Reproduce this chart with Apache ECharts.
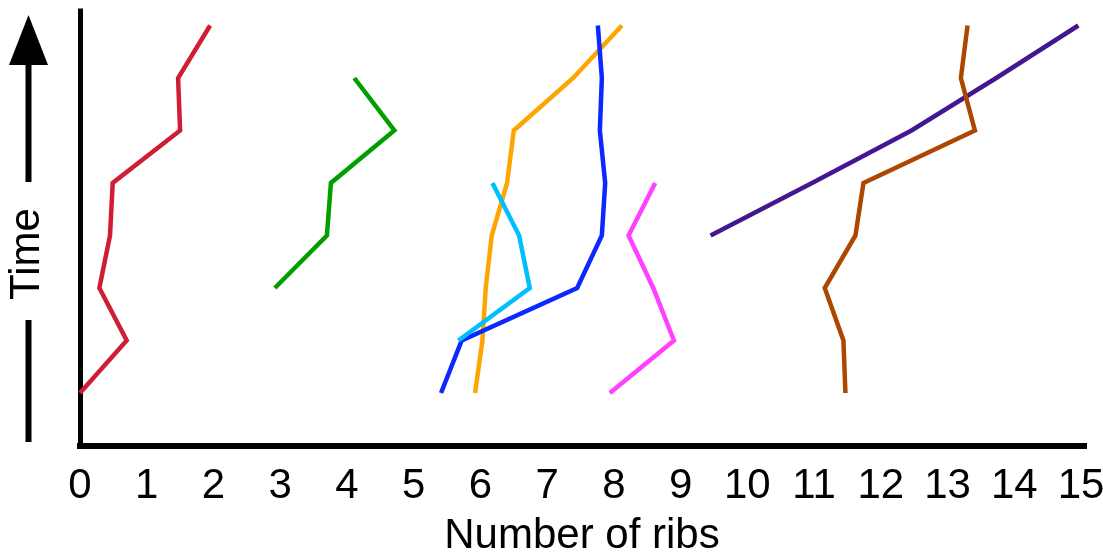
<!DOCTYPE html>
<html>
<head>
<meta charset="utf-8">
<script src="https://cdn.jsdelivr.net/npm/echarts@6/dist/echarts.min.js"></script>
<style>
  html, body { margin: 0; padding: 0; background: #fff; }
  #chart { width: 1103px; height: 554px; }
</style>
</head>
<body>
<div id="chart"></div>
<script>
// tick labels on the rib axis
const ribTicks = ['0', '1', '2', '3', '4', '5', '6', '7', '8', '9', '10', '11', '12', '13', '14', '15'];

// number of ribs at each time step, one array per lineage
const redRibs = [0, 0.70, 0.29, 0.45, 0.49, 1.50, 1.47, 1.95];
const redTime = [0, 1, 2, 3, 4, 5, 6, 7];

const greenRibs = [2.92, 3.70, 3.76, 4.71, 4.11];
const greenTime = [2, 3, 4, 5, 6];

const orangeRibs = [5.92, 6.03, 6.08, 6.17, 6.40, 6.50, 7.39, 8.12];
const orangeTime = [0, 1, 2, 3, 4, 5, 6, 7];

const blueRibs = [5.41, 5.72, 7.45, 7.82, 7.87, 7.79, 7.82, 7.76];
const blueTime = [0, 1, 2, 3, 4, 5, 6, 7];

const skyRibs = [5.67, 6.74, 6.58, 6.18];
const skyTime = [1, 2, 3, 4];

const pinkRibs = [7.94, 8.90, 8.59, 8.22, 8.62];
const pinkTime = [0, 1, 2, 3, 4];

const purpleRibs = [9.45, 10.97, 12.46, 13.73, 14.96];
const purpleTime = [3, 4, 5, 6, 7];

const brownRibs = [11.47, 11.44, 11.16, 11.62, 11.74, 13.41, 13.20, 13.30];
const brownTime = [0, 1, 2, 3, 4, 5, 6, 7];

const lineages = [
  { ribs: redRibs, time: redTime, color: '#cf1e34' },
  { ribs: greenRibs, time: greenTime, color: '#009f00' },
  { ribs: orangeRibs, time: orangeTime, color: '#ffa500' },
  { ribs: blueRibs, time: blueTime, color: '#0a28ff' },
  { ribs: skyRibs, time: skyTime, color: '#00bfff' },
  { ribs: pinkRibs, time: pinkTime, color: '#ff40ff' },
  { ribs: purpleRibs, time: purpleTime, color: '#42178f' },
  { ribs: brownRibs, time: brownTime, color: '#ad4600' }
];

const font = "'Liberation Sans', Arial, sans-serif";

let mychart = echarts.init(document.getElementById('chart'));
mychart.setOption({
  animation: false,
  backgroundColor: '#fff',
  grid: {
    left: 80,
    right: 19,
    top: 11,
    bottom: 108.5,
    containLabel: false,
    outerBoundsMode: 'none'
  },
  xAxis: {
    type: 'value',
    min: 0,
    max: 15.045,
    interval: 1,
    name: 'Number of ribs',
    nameLocation: 'middle',
    nameGap: 70,
    nameTextStyle: { color: '#000', fontSize: 42, fontFamily: font },
    axisLine: { onZero: false, lineStyle: { color: '#000', width: 6, cap: 'square' } },
    axisTick: { show: false },
    splitLine: { show: false },
    axisLabel: {
      color: '#000',
      fontSize: 42,
      fontFamily: font,
      margin: 20,
      formatter: (v) => (Number.isInteger(v) ? ribTicks[v] : '')
    }
  },
  yAxis: {
    type: 'value',
    min: -1,
    max: 7.276,
    axisLine: { show: true, onZero: false, lineStyle: { color: '#000', width: 5, cap: 'square' } },
    axisTick: { show: false },
    axisLabel: { show: false },
    splitLine: { show: false }
  },
  graphic: [
    // time arrow on the left
    { type: 'polygon', shape: { points: [[28.5, 15], [9, 65], [48, 65]] }, style: { fill: '#000' } },
    { type: 'rect', shape: { x: 25.5, y: 64, width: 6, height: 118 }, style: { fill: '#000' } },
    { type: 'rect', shape: { x: 25.5, y: 320, width: 6, height: 122 }, style: { fill: '#000' } },
    {
      type: 'text',
      x: 27,
      y: 254,
      rotation: Math.PI / 2,
      style: {
        text: 'Time',
        fill: '#000',
        font: '42px ' + font,
        align: 'center',
        verticalAlign: 'middle'
      }
    }
  ],
  series: lineages.map((l) => ({
    type: 'line',
    data: l.ribs.map((r, i) => [r, l.time[i]]),
    symbol: 'none',
    clip: false,
    lineStyle: { color: l.color, width: 4.5, join: 'miter' }
  }))
});
</script>
</body>
</html>
